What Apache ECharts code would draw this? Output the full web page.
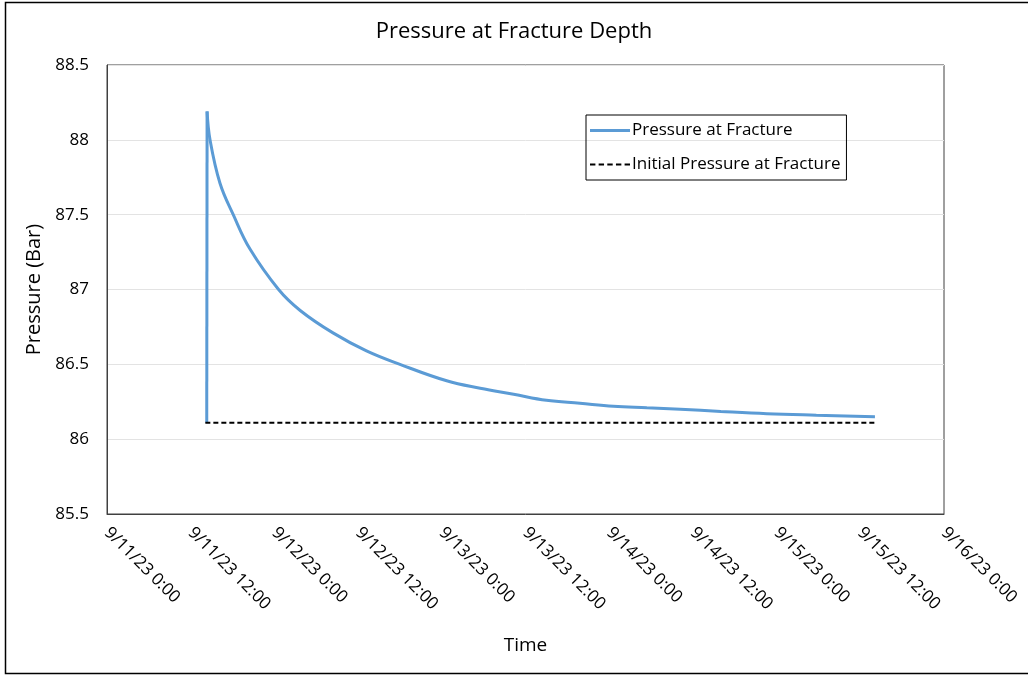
<!DOCTYPE html>
<html>
<head>
<meta charset="utf-8">
<script src="https://cdn.jsdelivr.net/npm/echarts@6/dist/echarts.min.js"></script>
<style>html,body{margin:0;padding:0;background:#fff}#c{width:1028px;height:675px}</style>
</head>
<body>
<div id="c"></div>
<script>
// Hours since 9/11/23 0:00
var timeHours = [14.3, 14.35, 14.77, 16.2, 18.1, 20.5, 24.6, 27.7, 32.4, 37.2, 42.0, 48.7, 53.5, 58.3, 63.0, 67.8, 72.6, 77.4, 82.2, 88.0, 94.6, 101.7, 110.1];
var pressure  = [86.11, 88.19, 88.0, 87.71, 87.5, 87.27, 87.0, 86.86, 86.71, 86.59, 86.5, 86.39, 86.34, 86.30, 86.26, 86.24, 86.22, 86.21, 86.20, 86.185, 86.17, 86.16, 86.15];
var initialTimes = [14.1, 110.1];
var initialPressure = [86.11, 86.11];
var xTickLabels = ['9/11/23 0:00','9/11/23 12:00','9/12/23 0:00','9/12/23 12:00','9/13/23 0:00','9/13/23 12:00','9/14/23 0:00','9/14/23 12:00','9/15/23 0:00','9/15/23 12:00','9/16/23 0:00'];
var yTicks = [85.5, 86, 86.5, 87, 87.5, 88, 88.5];

var font = 'Open Sans';
var pts = timeHours.map(function (t, i) { return [t, pressure[i]]; });
var solidIcon = 'path://M0,0H40V3H0Z';
var dashIcon = 'path://M0,0H5V2H0Z M8,0H13V2H8Z M16,0H21V2H16Z M24,0H29V2H24Z M32,0H37V2H32Z';

var chart = echarts.init(document.getElementById('c'));
chart.setOption({
  animation: false,
  backgroundColor: '#fff',
  title: {
    text: 'Pressure at Fracture Depth', left: 'center', top: 16,
    textStyle: {fontFamily: font, fontSize: 22, fontWeight: 'normal', color: '#000'}
  },
  graphic: [{type: 'rect', shape: {x: 5.5, y: 2.5, width: 1030, height: 671}, style: {fill: 'none', stroke: '#000', lineWidth: 1.5}, silent: true}],
  grid: {left: 107, right: 84, top: 65, bottom: 161, show: true, borderColor: '#404040', borderWidth: 1},
  legend: {
    orient: 'vertical', left: 586, top: 115,
    borderColor: '#000', borderWidth: 1, padding: [7, 6, 7, 4],
    itemWidth: 40, itemHeight: 3, itemGap: 17,
    textStyle: {fontFamily: font, fontSize: 17, color: '#000', padding: [0, 0, 0, -3]},
    data: [
      {name: 'Pressure at Fracture', icon: solidIcon},
      {name: 'Initial Pressure at Fracture', icon: dashIcon}
    ]
  },
  xAxis: {
    type: 'value', min: 0, max: 120, interval: 12,
    name: 'Time', nameLocation: 'middle', nameGap: 122,
    nameTextStyle: {fontFamily: font, fontSize: 19, color: '#000'},
    axisLine: {show: true, lineStyle: {color: '#404040'}},
    axisTick: {show: false},
    splitLine: {show: false},
    axisLabel: {
      rotate: -45, margin: 16, fontFamily: font, fontSize: 17, color: '#000',
      formatter: function (v) { return xTickLabels[Math.round(v / 12)]; }
    }
  },
  yAxis: {
    type: 'value', min: yTicks[0], max: yTicks[yTicks.length - 1], interval: 0.5,
    name: 'Pressure (Bar)', nameLocation: 'middle', nameGap: 62,
    nameTextStyle: {fontFamily: font, fontSize: 20, color: '#000'},
    axisLine: {show: true, lineStyle: {color: '#404040'}},
    axisTick: {show: false},
    splitLine: {show: true, lineStyle: {color: '#e3e3e3', width: 1}},
    axisLabel: {margin: 18, fontFamily: font, fontSize: 17, color: '#000',
      formatter: function (v) { return String(v); }}
  },
  series: [
    {
      name: 'Pressure at Fracture', type: 'line', showSymbol: false, symbol: 'none',
      lineStyle: {color: '#5b9bd5', width: 3}, itemStyle: {color: '#5b9bd5'},
      data: pts.slice(0, 2)
    },
    {
      name: 'Pressure at Fracture', type: 'line', showSymbol: false, symbol: 'none', smooth: 0.4,
      lineStyle: {color: '#5b9bd5', width: 3}, itemStyle: {color: '#5b9bd5'},
      data: pts.slice(1)
    },
    {
      name: 'Initial Pressure at Fracture', type: 'line', showSymbol: false, symbol: 'none',
      lineStyle: {color: '#000', width: 2, type: [5, 3]}, itemStyle: {color: '#000'},
      data: initialTimes.map(function (t, i) { return [t, initialPressure[i]]; })
    }
  ]
});
</script>
</body>
</html>
